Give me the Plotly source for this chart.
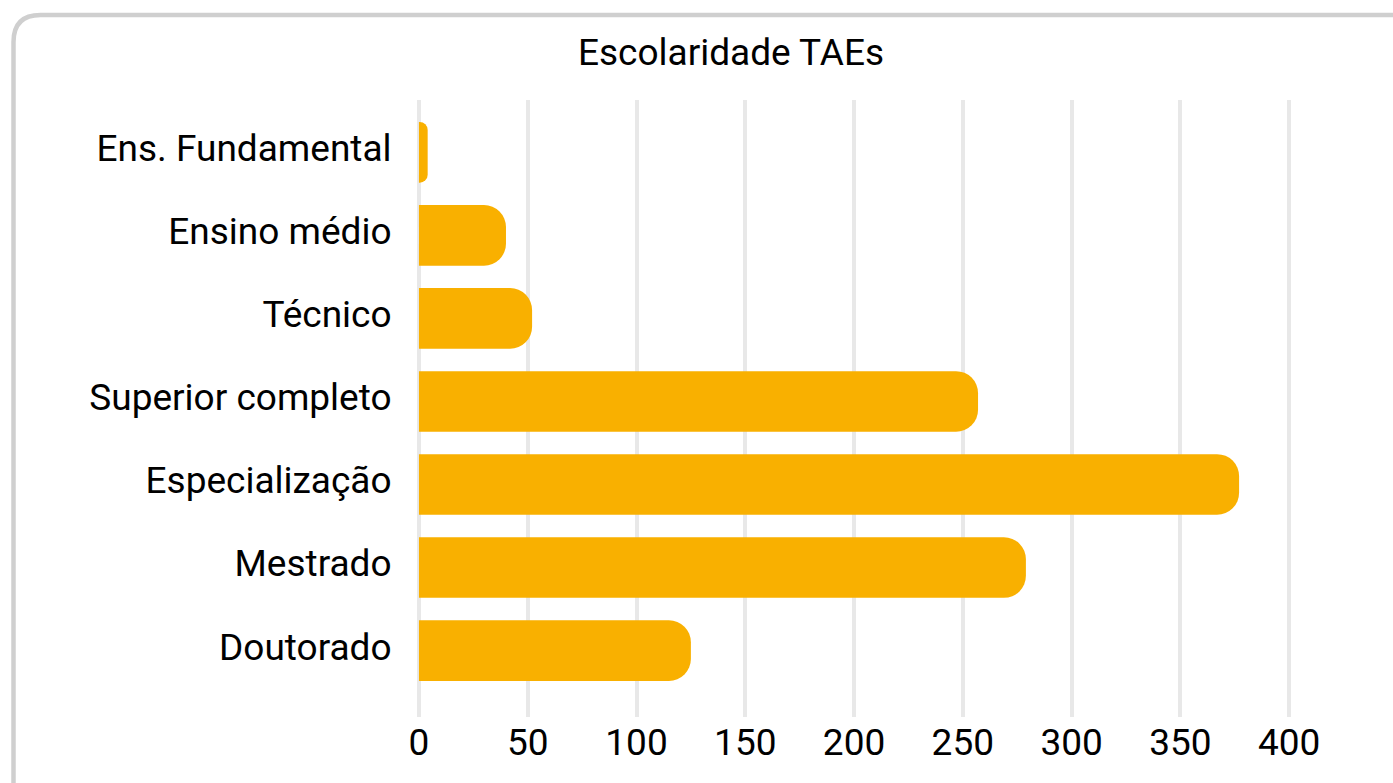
import plotly.graph_objects as go

# Education level of technical-administrative staff (TAEs)
categories = [
    "Ens. Fundamental",
    "Ensino médio",
    "Técnico",
    "Superior completo",
    "Especialização",
    "Mestrado",
    "Doutorado",
]
counts = [4, 40, 52, 257, 377, 279, 125]
tick_values = [0, 50, 100, 150, 200, 250, 300, 350, 400]
tick_labels = ["0", "50", "100", "150", "200", "250", "300", "350", "400"]
chart_title = "Escolaridade TAEs"

W, H = 1393, 783
M_L, M_R, M_T, M_B = 407, 93, 100, 66
PW, PH = W - M_L - M_R, H - M_T - M_B

BAR_COLOR = "#F9B000"
GRID_COLOR = "#E8E8E8"
FONT = "Roboto, Arial, sans-serif"
FONT_SIZE = 37


def px_x(p):
    return (p - M_L) / PW


def px_y(q):
    return (H - M_B - q) / PH


# card outline with rounded top-left corner (other edges run off the page)
r = 27
x0, y0 = 13.5, 15.0
x1, y1 = W + 60, H + 60
card_path = (
    f"M {px_x(x0)},{px_y(y1)} "
    f"L {px_x(x0)},{px_y(y0 + r)} "
    f"Q {px_x(x0)},{px_y(y0)} {px_x(x0 + r)},{px_y(y0)} "
    f"L {px_x(x1)},{px_y(y0)}"
)

fig = go.Figure(
    go.Bar(
        x=counts,
        y=categories,
        orientation="h",
        marker=dict(color=BAR_COLOR, line=dict(width=0)),
        hoverinfo="x+y",
    )
)

fig.update_layout(
    width=W,
    height=H,
    margin=dict(l=M_L, r=M_R, t=M_T, b=M_B, autoexpand=False),
    paper_bgcolor="white",
    plot_bgcolor="white",
    font=dict(family=FONT, size=FONT_SIZE, color="#000000"),
    title=dict(
        text=chart_title,
        x=731 / W,
        xref="container",
        xanchor="center",
        y=1 - 52 / H,
        yref="container",
        yanchor="middle",
        font=dict(family=FONT, size=FONT_SIZE, color="#000000"),
    ),
    bargap=0.27,
    barcornerradius=22,
    showlegend=False,
    shapes=[
        dict(
            type="path",
            path=card_path,
            xref="paper",
            yref="paper",
            line=dict(color="#CFCFCF", width=4.5),
            layer="above",
        )
    ],
)

fig.update_xaxes(
    range=[-5.5, 405],
    tickmode="array",
    tickvals=tick_values,
    ticktext=tick_labels,
    showgrid=True,
    gridcolor=GRID_COLOR,
    gridwidth=4,
    zeroline=False,
    showline=False,
    ticks="",
    tickfont=dict(family=FONT, size=FONT_SIZE, color="#000000"),
)

fig.update_yaxes(
    categoryorder="array",
    categoryarray=categories,
    range=[6.8, -0.63],
    showgrid=False,
    zeroline=False,
    showline=False,
    ticks="outside",
    ticklen=7,
    tickcolor="rgba(0,0,0,0)",
    ticklabelshift=4,
    tickfont=dict(family=FONT, size=FONT_SIZE, color="#000000"),
)

fig.write_html("out.html")
